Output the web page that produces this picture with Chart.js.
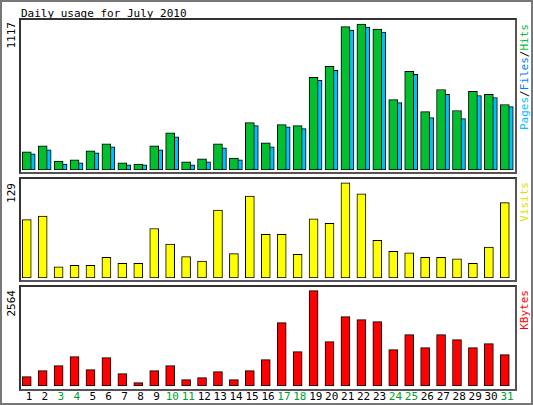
<!DOCTYPE html>
<html><head><meta charset="utf-8">
<script src="https://cdn.jsdelivr.net/npm/chart.js@4"></script>
<style>
body{margin:0;background:#fff;font-family:"DejaVu Sans Mono",monospace;}
#wrap{position:relative;width:533px;height:405px;box-sizing:border-box;border:2px solid #777;overflow:hidden;background:#fff}
.box{position:absolute;box-sizing:border-box;border:2px solid #333;border-right-color:#555;border-bottom-color:#555}
canvas{position:absolute}
.t{position:absolute;font-size:11px;line-height:11px;white-space:nowrap}
.v{position:absolute;font-size:11px;line-height:11px;writing-mode:vertical-rl;transform:rotate(180deg);white-space:nowrap}
</style></head><body>
<div id="wrap">
<div class="t" style="left:19px;top:6px">Daily usage for July 2010</div>
<div class="box" style="left:17px;top:16px;width:498px;height:156px"></div>
<div class="box" style="left:17px;top:175px;width:498px;height:105px"></div>
<div class="box" style="left:17px;top:283px;width:498px;height:106px"></div>
<canvas id="c1" style="left:19px;top:19px;width:494px;height:149px" width="494" height="149"></canvas>
<canvas id="c2" style="left:19px;top:180px;width:494px;height:96px" width="494" height="96"></canvas>
<canvas id="c3" style="left:19px;top:288px;width:494px;height:96px" width="494" height="96"></canvas>
<div class="v" style="left:4px;top:20px">1117</div>
<div class="v" style="left:4px;top:181px">129</div>
<div class="v" style="left:4px;top:288px">2564</div>
<div class="v" style="left:517px;top:22px"><span style="color:#00c0ff">Pages</span>/<span style="color:#0080ff">Files</span>/<span style="color:#00c040">Hits</span></div>
<div class="v" style="left:517px;top:180px;color:#e0e000">Visits</div>
<div class="v" style="left:517px;top:288px;color:#ff0000">KBytes</div>
<div id="days"></div>
</div>
<script>
const days=[1,2,3,4,5,6,7,8,9,10,11,12,13,14,15,16,17,18,19,20,21,22,23,24,25,26,27,28,29,30,31];
const weekend=[3,4,10,11,17,18,24,25,31];
const hits=[139,185,69,77,146,200,54,46,185,285,62,85,200,92,362,208,347,339,709,794,1097,1117,1079,539,755,447,616,455,601,578,501];
const files=[123,154,46,54,131,177,39,39,154,254,39,62,169,77,339,177,331,316,686,763,1071,1094,1055,516,732,401,578,393,570,555,485];
const pages=[77,85,46,54,31,39,39,39,154,254,39,62,169,72,331,177,316,154,177,100,239,262,223,177,69,62,77,62,69,39,39];
const visits=[79,84,15,17,17,28,20,20,67,46,29,23,92,33,111,59,59,32,80,74,129,114,51,36,34,28,28,26,20,42,102];
const kbytes=[251,412,547,789,439,762,332,90,412,547,170,224,385,170,412,708,1703,923,2564,1192,1865,1784,1730,977,1381,1031,1381,1246,1031,1139,843];

function pts(arr,off){return arr.map((v,i)=>({x:days[i]+off,y:v}));}
function ds(arr,off,color,w){return {data:pts(arr,off),backgroundColor:color,borderColor:'#000',borderWidth:1,borderSkipped:false,barThickness:w,grouped:false};}
function mk(id,sets,max){
  new Chart(document.getElementById(id),{type:'bar',data:{datasets:sets},
   options:{responsive:false,animation:false,events:[],devicePixelRatio:1,layout:{padding:0},
    plugins:{legend:{display:false},tooltip:{enabled:false}},
    scales:{x:{type:'linear',min:0.5,max:31.5,offset:false,display:false},y:{min:0,max:max,display:false}}}});
}
mk('c1',[ds(hits,-0.14,'#00c030',9),ds(files,0.11,'#00bfff',9),ds(pages,-0.22,'#0060ff',3)],1140);
mk('c2',[ds(visits,-0.14,'#ffff00',9)],130);
mk('c3',[ds(kbytes,-0.14,'#ff0000',9)],2580);
const d=document.getElementById('days');
days.forEach((v,i)=>{const s=document.createElement('div');s.className='t';s.textContent=v;
 s.style.top='389px';s.style.left=(19+(i+0.5)*494/31)+'px';s.style.transform='translateX(-50%)';
 s.style.color=weekend.includes(v)?'#00a030':'#000';d.appendChild(s);});
</script></body></html>
